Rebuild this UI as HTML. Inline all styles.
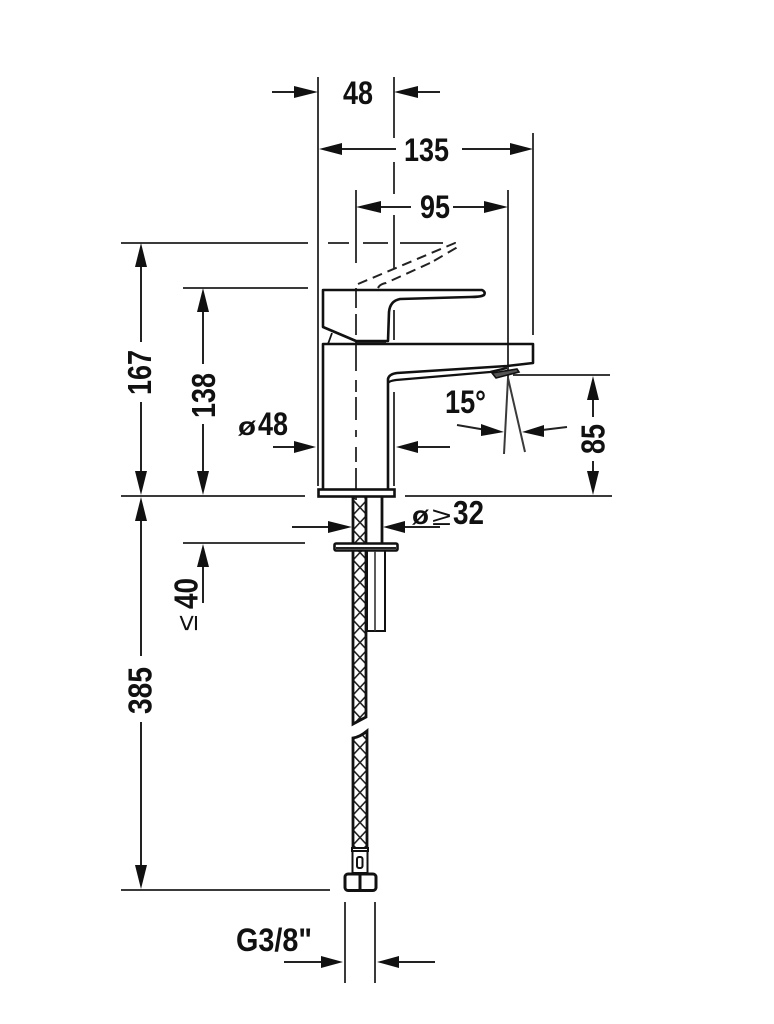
<!DOCTYPE html>
<html>
<head>
<meta charset="utf-8">
<style>
html,body{margin:0;padding:0;background:#fff;}
svg{display:block;filter:blur(.35px);}
text{font-family:"Liberation Sans",sans-serif;font-weight:700;fill:#111;}
</style>
</head>
<body>
<svg width="774" height="1024" viewBox="0 0 774 1024" xmlns="http://www.w3.org/2000/svg">
<defs>
<pattern id="braid" patternUnits="userSpaceOnUse" x="353" y="500" width="14" height="15">
<path d="M0 0L14 15M14 0L0 15" stroke="#222" stroke-width="1.6" fill="none"/>
</pattern>
</defs>

<!-- thin dimension lines -->
<g stroke="#3a3a3a" stroke-width="2" fill="none">
<path d="M318 77V486"/>
<path d="M394 77V138M394 162V194M394 215V268M394 310V340M394 392V486"/>
<path d="M356 190V263M356 288V308M356 314V335M356 342V371M356 380V392M356 397V420M356 430V437M356 447V462M356 468V500"/>
<path d="M508 190V378L504 454"/>
<path d="M508 378L525 452"/>
<path d="M533 133V335"/>
<path d="M121 243H308M328 243H349M363 243H388M400 243H443"/>
<path d="M183 288H308"/>
<path d="M121 496H305M405 496H612"/>
<path d="M183 543H305"/>
<path d="M121 890H330"/>
<path d="M513 375H610"/>
<path d="M345 902V983M375 902V983"/>
</g>

<g stroke="#222" stroke-width="2" fill="none">
<path d="M272 92H300M412 92H440"/>
<path d="M335 149H396M462 149H520"/>
<path d="M372 207H411M453 207H495"/>
<path d="M141 258V342M141 402V480"/>
<path d="M203 303V364M203 424V480"/>
<path d="M141 510V656M141 722V875"/>
<path d="M203 560V603"/>
<path d="M593 390V417M593 461V480"/>
<path d="M273 447H300M410 447H450"/>
<path d="M292 527H340M395 527H440"/>
<path d="M457 425L492 431M567 427L534 431"/>
<path d="M284 962H330M390 962H435"/>
</g>

<!-- arrowheads -->
<g fill="#111">
<path d="M318 92L294 86V98Z"/>
<path d="M394 92L418 86V98Z"/>
<path d="M319 149L342 143V155Z"/>
<path d="M533 149L510 143V155Z"/>
<path d="M356 207L381 201V213Z"/>
<path d="M508 207L484 201V213Z"/>
<path d="M141 243L135 267H147Z"/>
<path d="M141 495L135 471H147Z"/>
<path d="M203 288L197 312H209Z"/>
<path d="M203 495L197 471H209Z"/>
<path d="M141 497L135 521H147Z"/>
<path d="M141 889L135 865H147Z"/>
<path d="M203 544L197 567H209Z"/>
<path d="M593 376L587 400H599Z"/>
<path d="M593 495L587 471H599Z"/>
<path d="M316 447L294 441V453Z"/>
<path d="M396 447L418 441V453Z"/>
<path d="M352 527L328 521V533Z"/>
<path d="M383 527L405 521V533Z"/>
<path d="M504 432L481 424L481 436Z"/>
<path d="M522 432L544 425L544 437Z"/>
<path d="M343 962L321 956V968Z"/>
<path d="M377 962L399 956V968Z"/>
</g>

<!-- dashed lever -->
<path d="M358 284L455 243Q460 244 456 248L432 262" fill="none" stroke="#222" stroke-width="2" stroke-dasharray="10 6"/>
<path d="M378 288Q380 284 386 283L430 263" fill="none" stroke="#222" stroke-width="2" stroke-dasharray="10 6"/>

<!-- faucet -->
<g fill="none" stroke="#111" stroke-width="2.6" stroke-linejoin="round">
<path d="M323 290H482Q486 292 484 295Q481 297 470 297L400 299Q390 301 389 312L388 341H356L323 327Z"/>
<path d="M332 333L328 344" stroke-width="1.8"/>
<path d="M356 342H386" stroke-width="1.8"/>
<path d="M323 490V344H533V363L507 366L397 373Q389 374 388 379V490"/>
<path d="M388 383Q389 381 396 380L490 372L507 368" stroke-width="2.2"/>
</g>
<path d="M492 373L517 369L519 372L496 378Z" fill="#555" stroke="#111" stroke-width="1.6"/>

<!-- base plate -->
<rect x="318.5" y="489.5" width="76" height="7" fill="#fff" stroke="#111" stroke-width="2.6"/>

<!-- hose upper -->
<path d="M353 497H366V543H353Z" fill="url(#braid)"/>
<path d="M353 551H366V717L353 724Z" fill="url(#braid)"/>
<path d="M353 738Q360 737 367 731V848H353Z" fill="url(#braid)"/>
<g fill="none" stroke="#111" stroke-width="2.8">
<path d="M353 497V543M366 497V543"/>
<path d="M382 497V543"/>
<path d="M353 551V724L366 717V551"/>
<path d="M353 848V738Q360 737 367 731V848"/>
</g>

<!-- washer -->
<rect x="334.5" y="543.5" width="63" height="7" rx="1.5" fill="#fff" stroke="#111" stroke-width="2.6"/>
<path d="M336 548H396" stroke="#222" stroke-width="2"/>

<!-- tube -->
<path d="M367 551V631H385V551" fill="none" stroke="#111" stroke-width="2"/>
<path d="M375 551V631" stroke="#333" stroke-width="1.6"/>

<!-- ferrule & nut -->
<g fill="#fff" stroke="#111" stroke-width="2">
<rect x="352" y="848" width="16" height="3"/>
<rect x="352.5" y="851" width="15" height="22"/>
<rect x="357" y="857" width="5.5" height="11" rx="2"/>
</g>
<rect x="345" y="874" width="31" height="16.5" rx="3" fill="#fff" stroke="#111" stroke-width="3"/>
<path d="M360 874V890" stroke="#111" stroke-width="3"/>

<!-- labels -->
<text x="343" y="104" font-size="32" textLength="30" lengthAdjust="spacingAndGlyphs">48</text>
<text x="404" y="161" font-size="32" textLength="45" lengthAdjust="spacingAndGlyphs">135</text>
<text x="420" y="218" font-size="32" textLength="30" lengthAdjust="spacingAndGlyphs">95</text>
<text x="445" y="413" font-size="32" textLength="41" lengthAdjust="spacingAndGlyphs">15°</text>
<text x="238" y="435" font-size="26" textLength="18" lengthAdjust="spacingAndGlyphs">ø</text>
<text x="258" y="435" font-size="32" textLength="30" lengthAdjust="spacingAndGlyphs">48</text>
<text x="412" y="524" font-size="26" textLength="17" lengthAdjust="spacingAndGlyphs">ø</text>
<text x="432" y="525" font-size="26" textLength="19" lengthAdjust="spacingAndGlyphs" style="font-weight:400">≥</text>
<text x="453" y="524" font-size="33" textLength="31" lengthAdjust="spacingAndGlyphs">32</text>
<text x="236" y="951" font-size="32" textLength="76" lengthAdjust="spacingAndGlyphs">G3/8"</text>

<text transform="translate(151 395) rotate(-90)" font-size="33" textLength="45" lengthAdjust="spacingAndGlyphs">167</text>
<text transform="translate(215 418) rotate(-90)" font-size="33" textLength="45" lengthAdjust="spacingAndGlyphs">138</text>
<text transform="translate(151.5 714) rotate(-90)" font-size="33" textLength="47" lengthAdjust="spacingAndGlyphs">385</text>
<text transform="translate(197.5 609) rotate(-90)" font-size="33" textLength="31" lengthAdjust="spacingAndGlyphs">40</text>
<text transform="translate(197 631) rotate(-90)" font-size="29" textLength="16" lengthAdjust="spacingAndGlyphs" style="font-weight:400">≤</text>
<text transform="translate(604.5 454) rotate(-90)" font-size="33" textLength="30" lengthAdjust="spacingAndGlyphs">85</text>
</svg>
</body>
</html>
